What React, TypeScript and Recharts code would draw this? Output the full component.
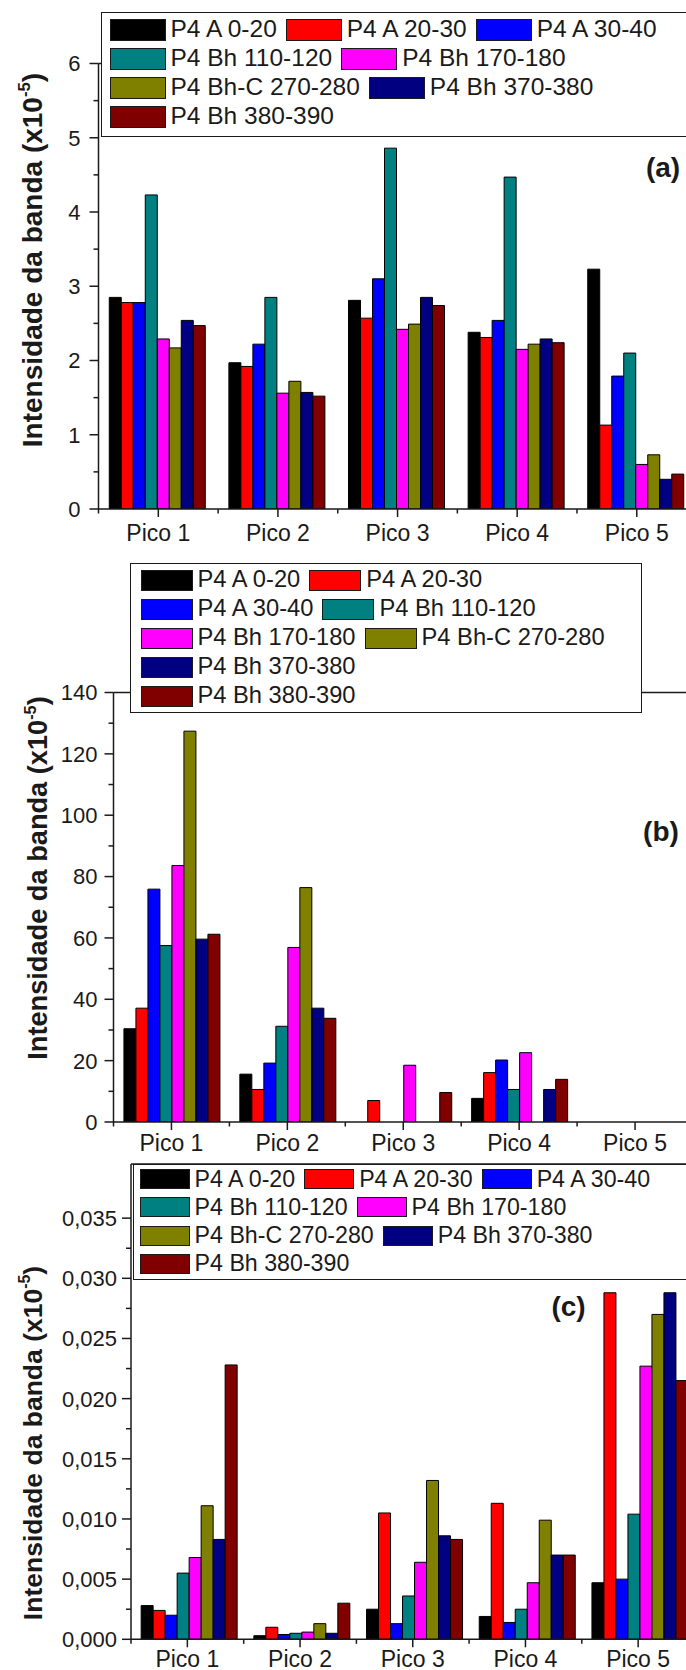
import React from "react";
import { BarChart, Bar, XAxis, YAxis, ReferenceLine } from "recharts";

const categories = ["Pico 1", "Pico 2", "Pico 3", "Pico 4", "Pico 5"];

const seriesNames = [
	"P4 A 0-20",
	"P4 A 20-30",
	"P4 A 30-40",
	"P4 Bh 110-120",
	"P4 Bh 170-180",
	"P4 Bh-C 270-280",
	"P4 Bh 370-380",
	"P4 Bh 380-390",
];
const seriesColors = ["#000000", "#ff0000", "#0000ff", "#008080", "#ff00ff", "#808000", "#000080", "#800000"];

// (a) one row per series, Pico 1..5
const valuesA = [
	[2.85, 1.97, 2.81, 2.38, 3.23],
	[2.78, 1.92, 2.57, 2.31, 1.13],
	[2.78, 2.22, 3.1, 2.54, 1.79],
	[4.23, 2.85, 4.86, 4.47, 2.1],
	[2.29, 1.56, 2.42, 2.15, 0.6],
	[2.17, 1.72, 2.49, 2.22, 0.73],
	[2.54, 1.57, 2.85, 2.29, 0.4],
	[2.47, 1.52, 2.74, 2.24, 0.47],
];

// (b)
const valuesB = [
	[30.4, 15.6, 0, 7.7, 0],
	[37.1, 10.6, 7.0, 16.1, 0],
	[75.9, 19.2, 0, 20.2, 0],
	[57.5, 31.2, 0, 10.6, 0],
	[83.6, 56.9, 18.5, 22.6, 0],
	[127.4, 76.4, 0, 0, 0],
	[59.6, 37.1, 0, 10.6, 0],
	[61.2, 33.8, 9.6, 13.9, 0],
];

// (c)
const valuesC = [
	[0.0028, 0.0003, 0.0025, 0.0019, 0.0047],
	[0.0024, 0.001, 0.0105, 0.0113, 0.0288],
	[0.002, 0.0004, 0.0013, 0.0014, 0.005],
	[0.0055, 0.0005, 0.0036, 0.0025, 0.0104],
	[0.0068, 0.0006, 0.0064, 0.0047, 0.0227],
	[0.0111, 0.0013, 0.0132, 0.0099, 0.027],
	[0.0083, 0.0005, 0.0086, 0.007, 0.0288],
	[0.0228, 0.003, 0.0083, 0.007, 0.0215],
];

const yTicksA = [0, 1, 2, 3, 4, 5, 6];
const yMinorA = [0.5, 1.5, 2.5, 3.5, 4.5, 5.5];
const yTicksB = [0, 20, 40, 60, 80, 100, 120, 140];
const yMinorB = [10, 30, 50, 70, 90, 110, 130];
const yTicksC = [0, 0.005, 0.01, 0.015, 0.02, 0.025, 0.03, 0.035];
const yMinorC = [0.0025, 0.0075, 0.0125, 0.0175, 0.0225, 0.0275, 0.0325];

const legendRowsA = [[0, 1, 2], [3, 4], [5, 6], [7]];
const legendRowsB = [[0, 1], [2, 3], [4, 5], [6], [7]];
const legendRowsC = [[0, 1, 2], [3, 4], [5, 6], [7]];

const FONT = '"Liberation Sans", Arial, sans-serif';
const INK = "#1a1a1a";
const CHART_W = 700;

const buildRows = (values: number[][]) =>
	categories.map((name, i) => {
		const row: Record<string, number | string> = { name };
		values.forEach((s, k) => {
			row[`s${k}`] = s[i];
		});
		return row;
	});

const XTick = (props: any) => {
	const { x, y, payload, index, baseline, half } = props;
	const h = payload && payload.offset ? payload.offset : half;
	return (
		<g>
			<line x1={x} x2={x} y1={y} y2={y + 8} stroke={INK} strokeWidth={1.5} />
			<line x1={x + h} x2={x + h} y1={y} y2={y + 4.5} stroke={INK} strokeWidth={1.5} />
			{index === 0 && <line x1={x - h} x2={x - h} y1={y} y2={y + 4.5} stroke={INK} strokeWidth={1.5} />}
			<text x={x} y={y + baseline} textAnchor="middle" fontSize={23} fontFamily={FONT} fill={INK}>
				{payload.value}
			</text>
		</g>
	);
};

const YTick = (props: any) => {
	const { x, y, payload, majors, fmt, gap, fontSize } = props;
	const major = majors.includes(payload.value);
	return (
		<g>
			<line x1={x} x2={x - (major ? 9 : 5)} y1={y} y2={y} stroke={INK} strokeWidth={1.5} />
			{major && (
				<text x={x - gap} y={y} dy="0.36em" textAnchor="end" fontSize={fontSize} fontFamily={FONT} fill={INK}>
					{fmt(payload.value)}
				</text>
			)}
		</g>
	);
};

const Legend = ({ cfg, rows }: any) => (
	<div
		style={{
			position: "absolute",
			left: cfg.left,
			top: cfg.top,
			width: cfg.width,
			height: cfg.height,
			boxSizing: "border-box",
			border: `1.5px solid ${INK}`,
			background: "#fff",
			paddingTop: cfg.padTop,
			paddingLeft: cfg.padLeft,
			fontFamily: FONT,
			fontSize: cfg.font,
			color: INK,
		}}
	>
		{rows.map((r: number[], ri: number) => (
			<div key={ri} style={{ display: "flex", alignItems: "center", height: cfg.rowH, whiteSpace: "nowrap" }}>
				{r.map((k) => (
					<div key={k} style={{ display: "flex", alignItems: "center", marginRight: 9 }}>
						<div
							style={{
								width: cfg.swW,
								height: cfg.swH,
								boxSizing: "border-box",
								background: seriesColors[k],
								border: `1.5px solid ${INK}`,
							}}
						/>
						<span style={{ marginLeft: 5, lineHeight: 1 }}>{seriesNames[k]}</span>
					</div>
				))}
			</div>
		))}
	</div>
);

const Panel = ({ values, majors, minors, domain, fmt, rows, L }: any) => {
	const data = buildRows(values);
	const h = L.height;
	const half = (L.plotRight - L.plotLeft) / categories.length / 2;
	const title = () => {
		const bx = L.titleX;
		const cy = L.titleY - L.top;
		const fs = L.titleFont;
		return (
			<text
				x={bx}
				y={cy}
				transform={`rotate(-90 ${bx} ${cy})`}
				textAnchor="middle"
				fontSize={fs}
				fontWeight="bold"
				fontFamily={FONT}
				fill={INK}
			>
				Intensidade da banda (x10
				<tspan dy={-fs * 0.42} fontSize={fs * 0.6}>
					-5
				</tspan>
				<tspan dy={fs * 0.42}>)</tspan>
			</text>
		);
	};
	return (
		<>
			<div style={{ position: "absolute", left: 0, top: L.top }}>
				<BarChart
					width={CHART_W}
					height={h}
					data={data}
					margin={{ top: L.plotTop - L.top, right: CHART_W - L.plotRight, left: 0, bottom: 0 }}
					barCategoryGap="9%"
					barGap={0}
				>
					<ReferenceLine y={domain[1]} stroke={INK} strokeWidth={1.5} />
					<XAxis
						dataKey="name"
						interval={0}
						height={L.top + h - L.plotBottom}
						tickSize={0}
						tickMargin={0}
						tickLine={false}
						axisLine={{ stroke: INK, strokeWidth: 1.5 }}
						tick={<XTick baseline={L.catBaseline} half={half} />}
					/>
					<YAxis
						type="number"
						domain={domain}
						allowDataOverflow
						ticks={[...majors, ...minors]}
						interval={0}
						width={L.plotLeft}
						tickSize={0}
						tickMargin={0}
						tickLine={false}
						axisLine={{ stroke: INK, strokeWidth: 1.5 }}
						tick={<YTick majors={majors} fmt={fmt} gap={L.labelGap} fontSize={22} />}
						label={title}
					/>
					{seriesNames.map((n, k) => (
						<Bar
							key={n}
							dataKey={`s${k}`}
							name={n}
							fill={seriesColors[k]}
							stroke="#000"
							strokeWidth={1}
							isAnimationActive={false}
						/>
					))}
				</BarChart>
			</div>
			<Legend cfg={L.legend} rows={rows} />
			<div
				style={{
					position: "absolute",
					left: L.tagX - 30,
					top: L.tagY - 16,
					width: 60,
					height: 32,
					lineHeight: "32px",
					textAlign: "center",
					fontFamily: FONT,
					fontSize: 28,
					fontWeight: "bold",
					color: INK,
				}}
			>
				{L.tag}
			</div>
		</>
	);
};

const layoutA = {
	top: 0,
	height: 550,
	plotTop: 63.5,
	plotBottom: 509,
	plotLeft: 98.5,
	plotRight: 696.6,
	labelGap: 18,
	catBaseline: 32,
	titleX: 42,
	titleY: 260,
	titleFont: 28,
	tag: "(a)",
	tagX: 663,
	tagY: 168,
	legend: { left: 101, top: 12, width: 600, height: 125, padTop: 2, padLeft: 7.5, rowH: 29, font: 24.5, swW: 56, swH: 22 },
};

const layoutB = {
	top: 560,
	height: 600,
	plotTop: 692.5,
	plotBottom: 1122,
	plotLeft: 113.5,
	plotRight: 693,
	labelGap: 16,
	catBaseline: 29,
	titleX: 47,
	titleY: 878,
	titleFont: 27.2,
	tag: "(b)",
	tagX: 661,
	tagY: 832,
	legend: { left: 130, top: 562.7, width: 512, height: 150, padTop: 2, padLeft: 9.5, rowH: 29, font: 23.7, swW: 52, swH: 21 },
};

const layoutC = {
	top: 1140,
	height: 530,
	plotTop: 1164,
	plotBottom: 1639.3,
	plotLeft: 131,
	plotRight: 694.5,
	labelGap: 14,
	catBaseline: 28,
	titleX: 41.6,
	titleY: 1443,
	titleFont: 26.5,
	tag: "(c)",
	tagX: 568.5,
	tagY: 1307,
	legend: { left: 132.6, top: 1164, width: 570, height: 116, padTop: 0, padLeft: 6, rowH: 28.3, font: 23.2, swW: 50, swH: 20 },
};

export default function App() {
	return (
		<div
			style={{
				position: "absolute",
				left: 0,
				top: 0,
				width: 686,
				height: 1670,
				overflow: "hidden",
				background: "#fff",
			}}
		>
			<Panel
				values={valuesA}
				majors={yTicksA}
				minors={yMinorA}
				domain={[0, 6]}
				fmt={(v: number) => String(v)}
				rows={legendRowsA}
				L={layoutA}
			/>
			<Panel
				values={valuesB}
				majors={yTicksB}
				minors={yMinorB}
				domain={[0, 140]}
				fmt={(v: number) => String(v)}
				rows={legendRowsB}
				L={layoutB}
			/>
			<Panel
				values={valuesC}
				majors={yTicksC}
				minors={yMinorC}
				domain={[0, 0.0395]}
				fmt={(v: number) => v.toFixed(3).replace(".", ",")}
				rows={legendRowsC}
				L={layoutC}
			/>
		</div>
	);
}
